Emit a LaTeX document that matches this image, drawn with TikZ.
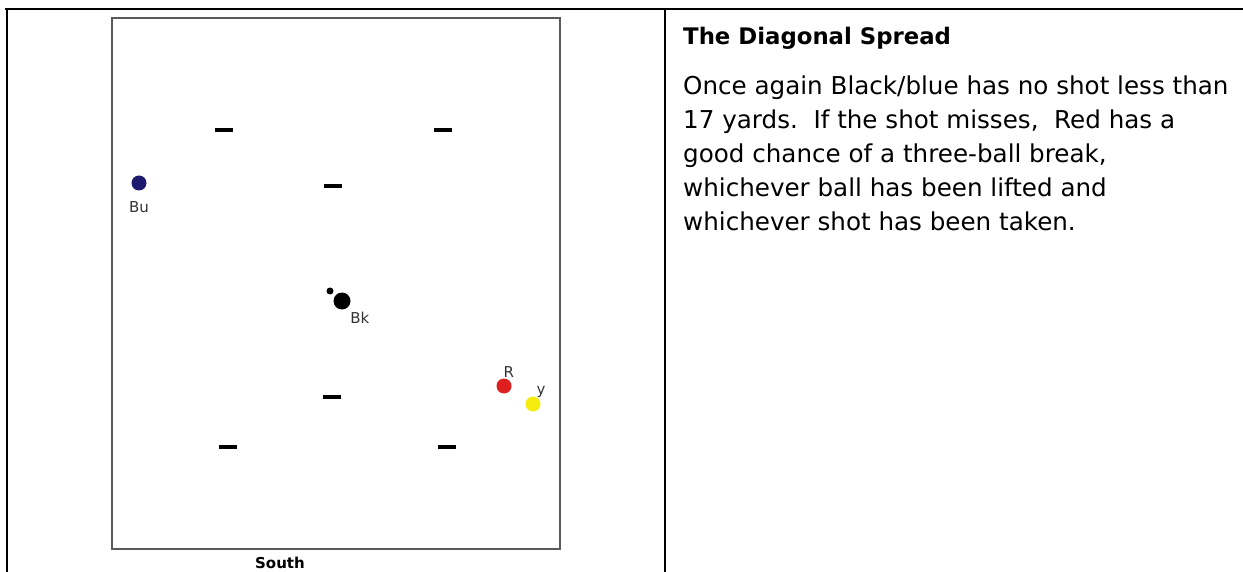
\documentclass[tikz,border=0pt]{standalone}
\usepackage{fontspec}
\setmainfont{DejaVu Sans}
\usetikzlibrary{positioning}
\usepackage{xcolor}
\definecolor{ballblue}{HTML}{1E1A6E}
\definecolor{ballred}{HTML}{DD1F1F}
\definecolor{ballyellow}{HTML}{F4EC0E}
\definecolor{lawnedge}{HTML}{5A5A5A}
\newcommand{\lblfont}{\fontsize{15}{15}\selectfont}

\begin{document}
\begin{tikzpicture}[
  x=1pt, y=-1pt,
  ball/.style={circle, inner sep=0pt, minimum size=15pt},
  hoop/.style={fill=black, inner sep=0pt, minimum width=18pt, minimum height=3.5pt},
  lbl/.style={font=\lblfont, text=black!80, inner sep=0pt},
  rule/.style={line width=2.5pt}
]
  \useasboundingbox (0,0) rectangle (1243,572);

  % table frame
  \draw[rule] (5,9) -- (1243,9);
  \draw[rule] (7,9) -- (7,572);
  \draw[rule] (665,9) -- (665,572);

  % lawn
  \draw[draw=lawnedge, line width=2pt] (112,18) rectangle (560,549);
  \node[font=\bfseries\lblfont] (south) at (280,563) {South};

  % hoops
  \node[hoop] (h1) at (224,130) {};
  \node[hoop] (h2) at (443,130) {};
  \node[hoop] (h3) at (333,186) {};
  \node[hoop] (h4) at (332,397) {};
  \node[hoop] (h5) at (228,447) {};
  \node[hoop] (h6) at (447,447) {};

  % balls
  \node[ball, fill=ballblue] (bu) at (139,183) {};
  \node[lbl, below=11pt of bu] (bulbl) {Bu};
  \node[circle, fill=black, inner sep=0pt, minimum size=7pt] (peg) at (330,291) {};
  \node[ball, fill=black, minimum size=17pt] (bk) at (342,301) {};
  \node[lbl, below right=5pt and 2pt of bk] (bklbl) {Bk};
  \node[ball, fill=ballred] (r) at (504,386) {};
  \node[lbl, above right=3pt and -6pt of r] (rlbl) {R};
  \node[ball, fill=ballyellow] (y) at (533,404) {};
  \node[lbl, above right=1pt and -2pt of y] (ylbl) {y};

  % commentary
  \node[anchor=base west, font=\bfseries\fontsize{22.8}{26}\selectfont, inner sep=0pt] (title) at (683,45) {The Diagonal Spread};
  \node[anchor=base west, align=left, inner sep=0pt,
        font=\fontsize{24.6}{34}\selectfont] (body) at (683,231)
    {Once again Black/blue has no shot less than\\
     17 yards.\ \ If the shot misses,\ \ Red has a\\
     good chance of a three-ball break,\\
     whichever ball has been lifted and\\
     whichever shot has been taken.};
\end{tikzpicture}
\end{document}
